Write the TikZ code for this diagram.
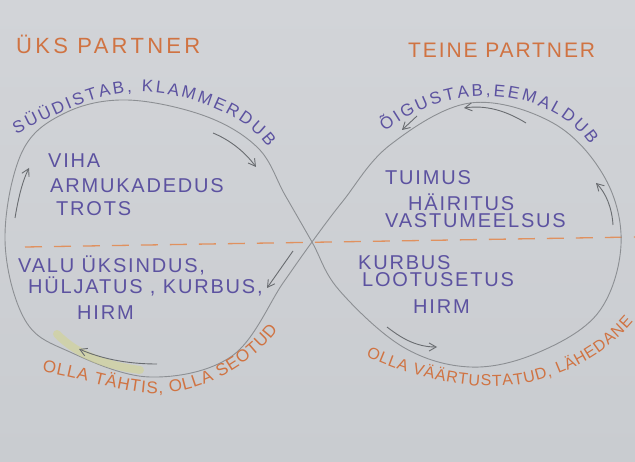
\documentclass[tikz,border=0pt]{standalone}
\usepackage{fontspec}
\setmainfont{Liberation Sans}
\newfontfamily\hand[LetterSpace=9]{Liberation Sans}
\newfontfamily\handw[LetterSpace=15]{Liberation Sans}
\newfontfamily\handc{Liberation Sans}
\usetikzlibrary{decorations.text, arrows.meta}
\definecolor{paper}{RGB}{210,212,216}
\definecolor{paperB}{RGB}{201,204,208}
\definecolor{inkp}{RGB}{92,82,160}
\definecolor{inko}{RGB}{208,115,66}
\definecolor{dashc}{RGB}{224,145,95}
\definecolor{pencil}{RGB}{140,143,147}
\definecolor{pencilD}{RGB}{105,108,112}
\definecolor{hilite}{RGB}{212,212,140}
\tikzset{
  purp/.style={text=inkp, font=\hand\fontsize{20}{20}\selectfont, inner sep=0pt, anchor=base west},
  orng/.style={text=inko, font=\hand\fontsize{21}{21}\selectfont, inner sep=0pt, anchor=base west},
  loop/.style={draw=pencil, line width=0.9pt},
  arr/.style={draw=pencilD, line width=0.9pt, -{Straight Barb[length=7pt,width=8pt]}},
  dashline/.style={draw=dashc, line width=1.3pt, dash pattern=on 17pt off 12pt},
  curvtext/.style n args={3}{decorate, decoration={text along path, text align={fit to path},
      text color=#1, text={|\handc\fontsize{#2}{#2}\selectfont|#3}}},
}
\begin{document}
\begin{tikzpicture}[x=1pt,y=-1pt]
\useasboundingbox (0,0) rectangle (635,462);
\fill[top color=paper, bottom color=paperB] (0,0) rectangle (635,462);

% dashed separator
\coordinate (dL) at (25,247);
\coordinate (dR) at (635,237);
\draw[dashline] (dL) -- (dR);

% infinity loop
\draw[loop] plot[smooth cycle, tension=0.6] coordinates {
  (312,242) (285,195) (258,148) (205,116) (127,100) (65,113) (22,152) (5,240)
  (25,320) (70,352) (150,377) (232,356) (283,283)
  (312,242) (343,201) (390,145) (470,103) (553,123) (605,178) (621,245)
  (598,313) (537,353) (470,367) (403,347) (339,290)};

% yellow highlight
\draw[hilite, line width=8pt, line cap=round, opacity=0.55] (57,334) .. controls (78,356) and (110,366) .. (140,370);

% arrows
\coordinate (a1s) at (15,218); \coordinate (a1e) at (29,168);
\draw[arr] (a1s) .. controls (18,200) and (22,182) .. (a1e);
\coordinate (a2s) at (213,133); \coordinate (a2e) at (256,167);
\draw[arr] (a2s) .. controls (230,140) and (245,152) .. (a2e);
\coordinate (a3s) at (293,251); \coordinate (a3e) at (267,288);
\draw[arr] (a3s) -- (a3e);
\coordinate (a4s) at (157,364); \coordinate (a4e) at (79,349);
\draw[arr] (a4s) .. controls (125,364) and (100,358) .. (a4e);
\coordinate (a5s) at (526,123); \coordinate (a5e) at (464,108);
\draw[arr] (a5s) .. controls (505,110) and (485,105) .. (a5e);
\coordinate (a6s) at (417,116); \coordinate (a6e) at (402,130);
\draw[arr] (a6s) -- (a6e);
\coordinate (a7s) at (613,225); \coordinate (a7e) at (596,183);
\draw[arr] (a7s) .. controls (612,208) and (606,193) .. (a7e);
\coordinate (a8s) at (387,327); \coordinate (a8e) at (437,347);
\draw[arr] (a8s) .. controls (400,337) and (415,347) .. (a8e);

% headings
\node[orng, font=\handw\fontsize{22}{22}\selectfont] (p1) at (16,54) {ÜKS PARTNER};
\node[orng] (p2) at (408,58) {TEINE PARTNER};

% feelings
\node[purp] (l1) at (48,168) {VIHA};
\node[purp] (l2) at (50,193) {ARMUKADEDUS};
\node[purp] (l3) at (56,216) {TROTS};
\node[purp] (r1) at (385,185) {TUIMUS};
\node[purp] (r2) at (408,211) {HÄIRITUS};
\node[purp] (r3) at (385,228) {VASTUMEELSUS};
\node[purp] (l4) at (18,273) {VALU ÜKSINDUS,};
\node[purp] (l5) at (28,294) {HÜLJATUS , KURBUS,};
\node[purp] (l6) at (77,320) {HIRM};
\node[purp] (r4) at (358,270) {KURBUS};
\node[purp] (r5) at (362,287) {LOOTUSETUS};
\node[purp] (r6) at (413,314) {HIRM};

% curved labels
\path[curvtext={inkp}{17}{SÜÜDISTAB, KLAMMERDUB}]
  (16,134) .. controls (55,115) and (100,90) .. (145,92) .. controls (190,94) and (245,115) .. (268,147);
\path[curvtext={inkp}{17}{ÕIGUSTAB,EEMALDUB}]
  (385,132) .. controls (420,105) and (455,95) .. (490,96) .. controls (530,97) and (570,115) .. (590,145);
\path[curvtext={inko}{17}{OLLA TÄHTIS, OLLA SEOTUD}]
  (42,372) .. controls (90,380) and (130,396) .. (165,393) .. controls (210,390) and (255,360) .. (278,330);
\path[curvtext={inko}{16}{OLLA VÄÄRTUSTATUD, LÄHEDANE}]
  (366,356) .. controls (400,372) and (450,388) .. (500,386) .. controls (560,384) and (610,350) .. (633,322);
\end{tikzpicture}
\end{document}
